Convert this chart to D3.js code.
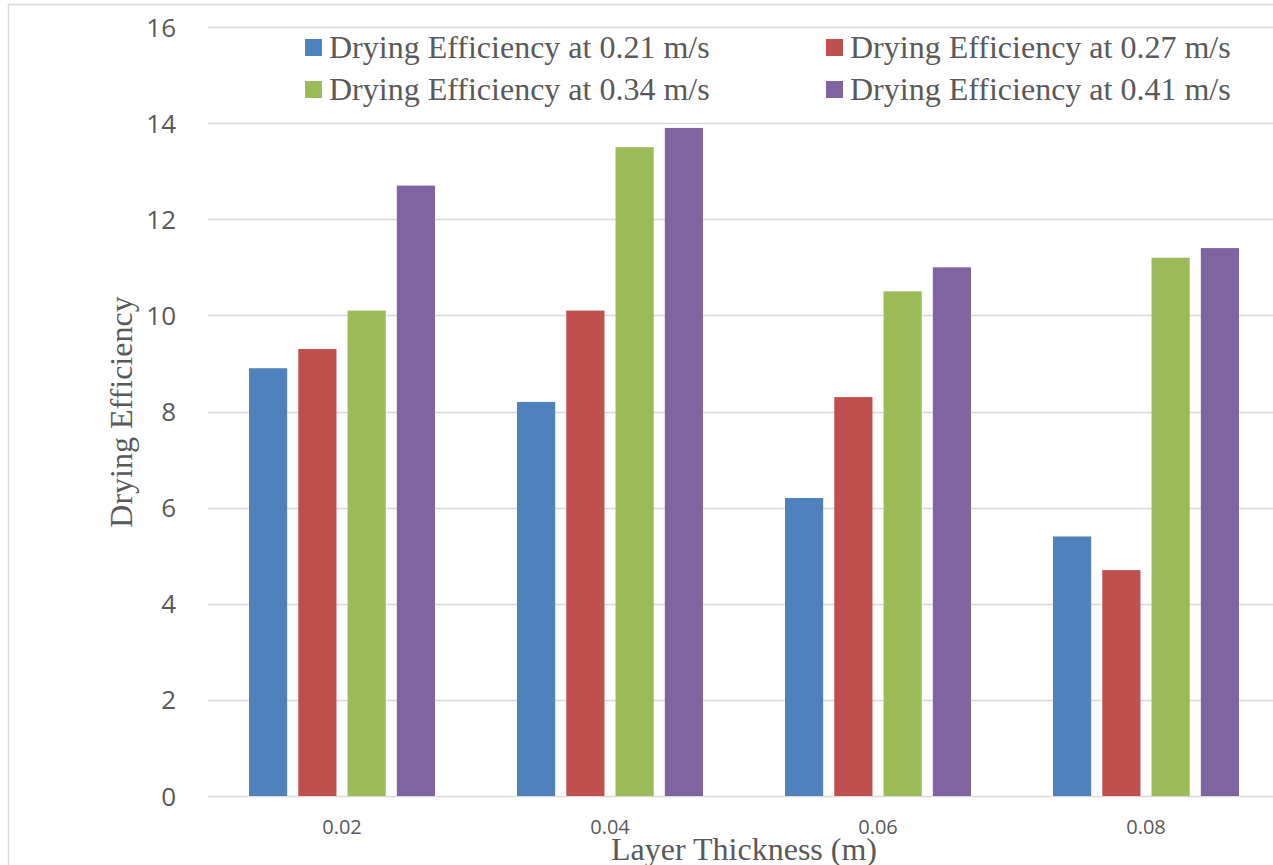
<!DOCTYPE html>
<html>
<head>
<meta charset="utf-8">
<script src="https://cdn.jsdelivr.net/npm/d3@7/dist/d3.min.js"></script>
<style>
  html, body { margin: 0; padding: 0; background: #fff; overflow: hidden; }
  svg { display: block; }
</style>
</head>
<body>
<svg id="chart" width="1273" height="865"></svg>
<script>
// Layer thickness categories (m)
const categories = ["0.02", "0.04", "0.06", "0.08"];
// Series names by air velocity
const seriesNames = [
  "Drying Efficiency at 0.21 m/s",
  "Drying Efficiency at 0.27 m/s",
  "Drying Efficiency at 0.34 m/s",
  "Drying Efficiency at 0.41 m/s"
];
// Drying efficiency per series, one value per layer thickness
const eff021 = [8.9, 8.2, 6.2, 5.4];
const eff027 = [9.3, 10.1, 8.3, 4.7];
const eff034 = [10.1, 13.5, 10.5, 11.2];
const eff041 = [12.7, 13.9, 11.0, 11.4];
const seriesValues = [eff021, eff027, eff034, eff041];
const seriesColors = ["#4f81bd", "#c0504d", "#9bbb59", "#8064a2"];
const yTicks = [0, 2, 4, 6, 8, 10, 12, 14, 16];

const svg = d3.select("#chart");
const W = 1273, H = 865;
const plot = { left: 208, right: 1280, top: 27, bottom: 796 };
const textColor = "#595959";
const serif = "'Liberation Serif', 'Times New Roman', serif";
const sans = "'Open Sans', 'Liberation Sans', sans-serif";

// Outer chart border
svg.append("rect")
  .attr("x", 8.5).attr("y", 4.5)
  .attr("width", W + 20).attr("height", H + 20)
  .attr("fill", "#fff").attr("stroke", "#d9d9d9").attr("stroke-width", 1.5);

const x0 = d3.scaleBand().domain(categories).range([plot.left, plot.right]).paddingInner(0).paddingOuter(0);
const groupWidth = 186;
const x1 = d3.scaleBand().domain(d3.range(seriesNames.length))
  .range([0, groupWidth]).paddingInner(0.225).paddingOuter(0);
const y = d3.scaleLinear().domain([0, 16]).range([plot.bottom, plot.top]);

// Horizontal gridlines
svg.append("g").selectAll("line").data(yTicks).join("line")
  .attr("x1", plot.left).attr("x2", plot.right)
  .attr("y1", d => Math.round(y(d)) + 0.5).attr("y2", d => Math.round(y(d)) + 0.5)
  .attr("stroke", "#d9d9d9").attr("stroke-width", 1.5);

// Y axis tick labels
const yAxis = d3.axisLeft(y).tickValues(yTicks).tickSize(0).tickPadding(0);
const gy = svg.append("g").attr("transform", `translate(176,0)`).call(yAxis);
gy.select(".domain").remove();
gy.selectAll("text")
  .attr("fill", textColor).style("font-family", sans).style("font-size", "26px")
  .attr("dy", "0.35em");

// Bars
const groups = svg.append("g").selectAll("g").data(categories).join("g")
  .attr("transform", d => `translate(${x0(d) + (x0.bandwidth() - groupWidth) / 2},0)`);
groups.selectAll("rect")
  .data((d, i) => seriesValues.map((vals, s) => ({ s, v: vals[i] })))
  .join("rect")
  .attr("x", d => x1(d.s))
  .attr("width", x1.bandwidth())
  .attr("y", d => y(d.v))
  .attr("height", d => y(0) - y(d.v))
  .attr("fill", d => seriesColors[d.s]);

// X axis tick labels
const xAxis = d3.axisBottom(x0).tickSize(0).tickPadding(0);
const gx = svg.append("g").attr("transform", `translate(0,${plot.bottom})`).call(xAxis);
gx.select(".domain").remove();
gx.selectAll("text")
  .attr("fill", textColor).style("font-family", sans).style("font-size", "20px")
  .attr("y", 38).attr("dy", 0);

// Axis titles
svg.append("text")
  .attr("x", 744).attr("y", 860)
  .attr("text-anchor", "middle")
  .attr("fill", textColor).style("font-family", serif).style("font-size", "32px")
  .text("Layer Thickness (m)");
svg.append("text")
  .attr("transform", "translate(132,412) rotate(-90)")
  .attr("text-anchor", "middle")
  .attr("fill", textColor).style("font-family", serif).style("font-size", "32px")
  .text("Drying Efficiency");

// Legend, two columns by two rows
const legendPos = [[305, 47], [826, 47], [305, 89], [826, 89]];
const legend = svg.append("g").selectAll("g").data(seriesNames).join("g")
  .attr("transform", (d, i) => `translate(${legendPos[i][0]},${legendPos[i][1]})`);
legend.append("rect")
  .attr("x", 0).attr("y", -8).attr("width", 17).attr("height", 17)
  .attr("fill", (d, i) => seriesColors[i]);
legend.append("text")
  .attr("x", 24).attr("y", 0).attr("dy", "0.35em")
  .attr("fill", textColor).style("font-family", serif).style("font-size", "32px")
  .text(d => d);
</script>
</body>
</html>
